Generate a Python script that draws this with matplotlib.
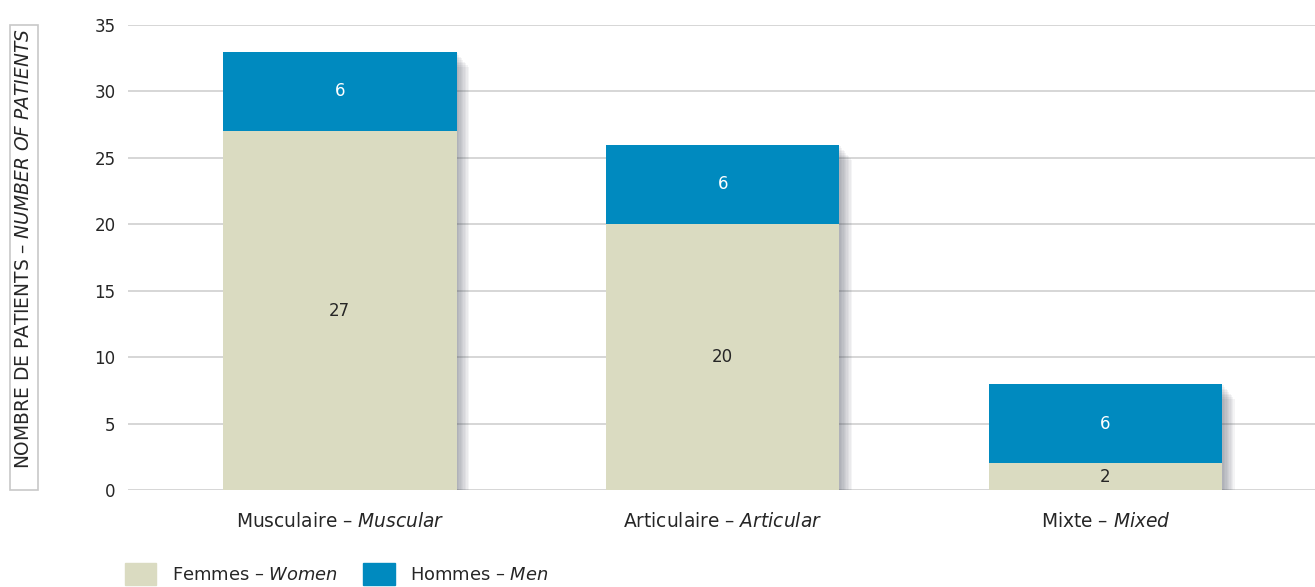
import matplotlib
matplotlib.use("Agg")
import matplotlib.pyplot as plt
import matplotlib.patheffects as pe
from matplotlib.patches import Patch, Rectangle

categories = ["Musculaire", "Articulaire", "Mixte"]
categories_en = ["Muscular", "Articular", "Mixed"]
women = [27, 20, 2]
men = [6, 6, 6]

BEIGE = "#dadbc1"
BLUE = "#008abf"
TEXT = "#262626"
GRID = "#cfcfcf"

plt.rcParams.update({
    "font.family": "DejaVu Sans",
    "font.size": 12,
    "mathtext.fontset": "dejavusans",
    "text.color": TEXT,
    "xtick.color": TEXT,
    "ytick.color": TEXT,
})

W, H = 1315, 587
fig = plt.figure(figsize=(W / 100, H / 100), dpi=100)
ax = fig.add_axes([128 / W, 1 - 490 / H, 1 - 128 / W, (490 - 25) / H])

x = list(range(len(categories)))
width = 0.61
totals = [w + m for w, m in zip(women, men)]

# soft drop shadow under each whole stack
shadow = [pe.SimplePatchShadow(offset=(k, -k * 1.2), shadow_rgbFace="#4a5060", alpha=0.06)
          for k in range(1, 10)] + [pe.Normal()]
ax.bar(x, totals, width, color=BEIGE, zorder=2, path_effects=shadow)
ax.bar(x, women, width, color=BEIGE, zorder=3)
ax.bar(x, men, width, bottom=women, color=BLUE, zorder=3)

for i in x:
    ax.text(i, women[i] / 2, f"{women[i]}", ha="center", va="center",
            color=TEXT, zorder=4)
    ax.text(i, women[i] + men[i] / 2, f"{men[i]}", ha="center", va="center",
            color="white", zorder=4)

ax.set_xlim(-0.553, 2.547)
ax.set_ylim(0, 35)
ax.set_yticks(range(0, 36, 5))
ax.set_xticks(x)
ax.set_xticklabels([f"{fr} – $\\mathit{{{en}}}$" for fr, en in zip(categories, categories_en)],
                   fontsize=13.4)
ax.tick_params(axis="y", length=0, pad=9)
ax.tick_params(axis="x", length=0, pad=16)
for s in ax.spines.values():
    s.set_visible(False)
ax.yaxis.grid(True, color=GRID, linewidth=1.2, zorder=0)
ax.set_axisbelow(True)

# boxed y label
fig.patches.append(Rectangle((10 / W, 1 - 490 / H), 28 / W, 465 / H,
                             transform=fig.transFigure, fill=False,
                             edgecolor="#c8c8c8", linewidth=1.2))
fig.text(24 / W, 1 - 249 / H,
         "NOMBRE DE PATIENTS – $\\mathit{NUMBER\\ OF\\ PATIENTS}$",
         rotation=90, ha="center", va="center", fontsize=13.4)

handles = [Patch(color=BEIGE, label="Femmes – $\\mathit{Women}$"),
           Patch(color=BLUE, label="Hommes – $\\mathit{Men}$")]
fig.legend(handles=handles, loc="center left", bbox_to_anchor=(125 / W, 1 - 574 / H),
           ncol=2, frameon=False, borderpad=0, borderaxespad=0, fontsize=12.9,
           handlelength=1.75, handleheight=1.55, handletextpad=0.85,
           columnspacing=1.45)

fig.savefig("out.png", dpi=100)
